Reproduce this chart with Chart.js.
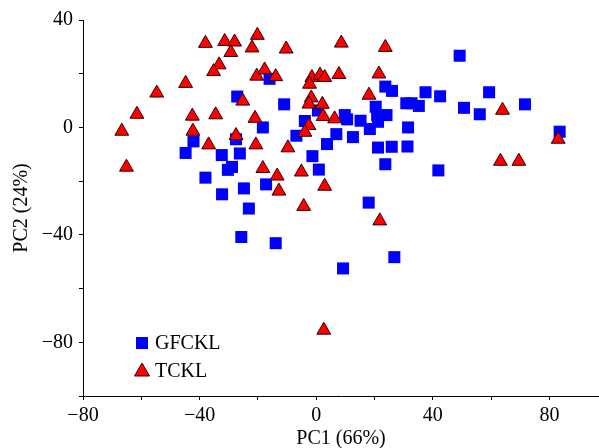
<!DOCTYPE html>
<html><head><meta charset="utf-8">
<script src="https://cdn.jsdelivr.net/npm/chart.js@4/dist/chart.umd.min.js"></script>
<style>html,body{margin:0;padding:0;background:#fff;overflow:hidden}canvas{display:block}</style>
</head><body>
<canvas id="c" width="599" height="448"></canvas>
<script>
const seriesNames = ['GFCKL', 'TCKL'];
const gfcklX = [-27.1,-27.5,-18.3,-42.1,-44.8,-32.4,-26.2,-28.9,-30.3,-38.0,-24.8,-32.3,-23.1,-25.7,-6.8,6.9,12.6,3.7,18.4,21.2,25.9,31.3,31.5,21.2,15.2,-1.3,0.9,23.7,41.9,-17.2,18.0,-13.9,26.8,9.2,-16.0,-11.0,-3.9,0.6,9.8,10.6,20.4,20.9,24.1,23.7,26.0,30.9,32.7,35.2,37.5,42.5,49.2,50.7,56.1,59.3,71.6,83.5];
const gfcklY = [11.5,-4.4,0,-5.2,-9.5,-10.3,-9.7,-14.7,-15.8,-18.7,-22.7,-24.9,-30.2,-40.8,-3.1,-2.5,-3.6,-6.2,-0.6,-7.5,-7.2,-7.1,0,2.1,2.5,-10.7,-15.7,-13.7,-16.0,-21.2,-28.0,-43.1,-48.3,-52.5,18.1,8.6,2.4,6.3,4.6,3.0,7.7,4.6,4.6,15.2,13.6,9.0,9.0,8.0,13.1,11.6,26.7,7.3,4.9,13.1,8.6,-1.6];
const tcklX = [-38.0,-31.4,-28.0,-29.3,-20.2,-22.0,-33.3,-35.2,-20.4,-44.8,-54.7,-25.2,-61.5,-42.5,-34.5,-21.0,-66.7,-42.3,-65.1,-36.9,-27.5,-20.7,-10.3,8.6,23.7,-17.7,-13.9,-1.5,1.3,2.9,7.8,21.5,-2.3,18.1,-1.7,-2.5,2.1,2.4,6.3,-2.5,-3.9,-9.7,-18.3,-13.4,-5.1,-12.8,2.9,-4.3,21.8,2.6,63.9,83.0,63.2,69.5];
const tcklY = [31.3,32.0,31.8,27.9,34.3,29.6,23.3,20.8,19.1,16.4,12.8,9.8,4.9,4.2,4.7,3.4,-1.4,-1.4,-14.8,-6.5,-3.0,-6.5,29.2,31.4,29.8,21.4,18.9,18.6,19.5,18.6,19.7,19.9,16.1,12.0,11.0,8.7,8.6,4.1,3.2,0.7,-1.8,-7.6,-15.3,-18.1,-16.6,-23.7,-21.9,-29.4,-34.8,-75.5,6.4,-4.4,-12.6,-12.6];
const xTickValues = [-80,-60,-40,-20,0,20,40,60,80];
const xTickLabels = ['\u221280','','\u221240','','0','','40','','80'];
const yTickValues = [-100,-80,-60,-40,-20,0,20,40];
const yTickLabels = ['','\u221280','','\u221240','','0','','40'];
const xTitle = 'PC1 (66%)';
const yTitle = 'PC2 (24%)';

const FONT = '"Liberation Serif", "Times New Roman", serif';
const font20 = {family: FONT, size: 20};

const legendPlugin = {
  id: 'insideLegend',
  afterDraw(chart) {
    const ctx = chart.ctx;
    const ca = chart.chartArea;
    const mx = ca.left + 59, tx = ca.left + 72;
    const y1 = ca.bottom - 53, y2 = ca.bottom - 25;
    ctx.save();
    ctx.fillStyle = '#0000ff';
    ctx.fillRect(mx - 6, y1 - 6, 12, 12);
    ctx.beginPath();
    ctx.moveTo(mx, y2 - 8);
    ctx.lineTo(mx + 7.5, y2 + 5);
    ctx.lineTo(mx - 7.5, y2 + 5);
    ctx.closePath();
    ctx.fillStyle = '#ff0000';
    ctx.fill();
    ctx.strokeStyle = '#330000';
    ctx.lineWidth = 1;
    ctx.stroke();
    ctx.fillStyle = '#000';
    ctx.font = '20px ' + FONT;
    ctx.textBaseline = 'middle';
    ctx.textAlign = 'left';
    ctx.fillText(seriesNames[0], tx, y1 + 1);
    ctx.fillText(seriesNames[1], tx, y2 + 1);
    ctx.restore();
  }
};

new Chart(document.getElementById('c'), {
  type: 'scatter',
  data: {
    datasets: [
      {
        label: seriesNames[1],
        data: tcklX.map((x, i) => ({x, y: tcklY[i]})),
        pointStyle: 'triangle',
        pointRadius: 8,
        backgroundColor: '#ff0000',
        borderColor: '#330000',
        borderWidth: 1
      },
      {
        label: seriesNames[0],
        data: gfcklX.map((x, i) => ({x, y: gfcklY[i]})),
        pointStyle: 'rect',
        pointRadius: 8.5,
        backgroundColor: '#0000ff',
        borderColor: '#0000ff',
        borderWidth: 0
      }
    ]
  },
  options: {
    responsive: false,
    animation: false,
    events: [],
    layout: {autoPadding: false, padding: {top: 20, right: 0, left: 0, bottom: 0}},
    plugins: {legend: {display: false}, tooltip: {enabled: false}},
    scales: {
      x: {
        type: 'linear', min: -80, max: 97,
        afterBuildTicks: a => { a.ticks = xTickValues.map(v => ({value: v})); },
        afterFit: s => { s.height = 52; s.paddingRight = 0; s.paddingLeft = 0; },
        grid: {drawOnChartArea: false, drawTicks: true, tickLength: 4, color: '#000', lineWidth: 1},
        border: {display: true, color: '#000', width: 1},
        ticks: {autoSkip: false, maxRotation: 0, padding: 4, color: '#000', font: font20,
          callback: (v) => xTickLabels[xTickValues.indexOf(v)]},
        title: {display: true, text: xTitle, color: '#000', font: font20, padding: {top: 0, bottom: -3}}
      },
      y: {
        type: 'linear', min: -100, max: 40,
        afterBuildTicks: a => { a.ticks = yTickValues.map(v => ({value: v})); },
        afterFit: s => { s.width = 83; s.paddingTop = 0; s.paddingBottom = 0; },
        grid: {drawOnChartArea: false, drawTicks: true, tickLength: 4, color: '#000', lineWidth: 1},
        border: {display: true, color: '#000', width: 1},
        ticks: {autoSkip: false, padding: 6, color: '#000', font: font20,
          callback: (v) => yTickLabels[yTickValues.indexOf(v)]},
        title: {display: true, text: yTitle, color: '#000', font: font20, padding: {top: 10, bottom: 0}}
      }
    }
  },
  plugins: [legendPlugin]
});
</script>
</body></html>
